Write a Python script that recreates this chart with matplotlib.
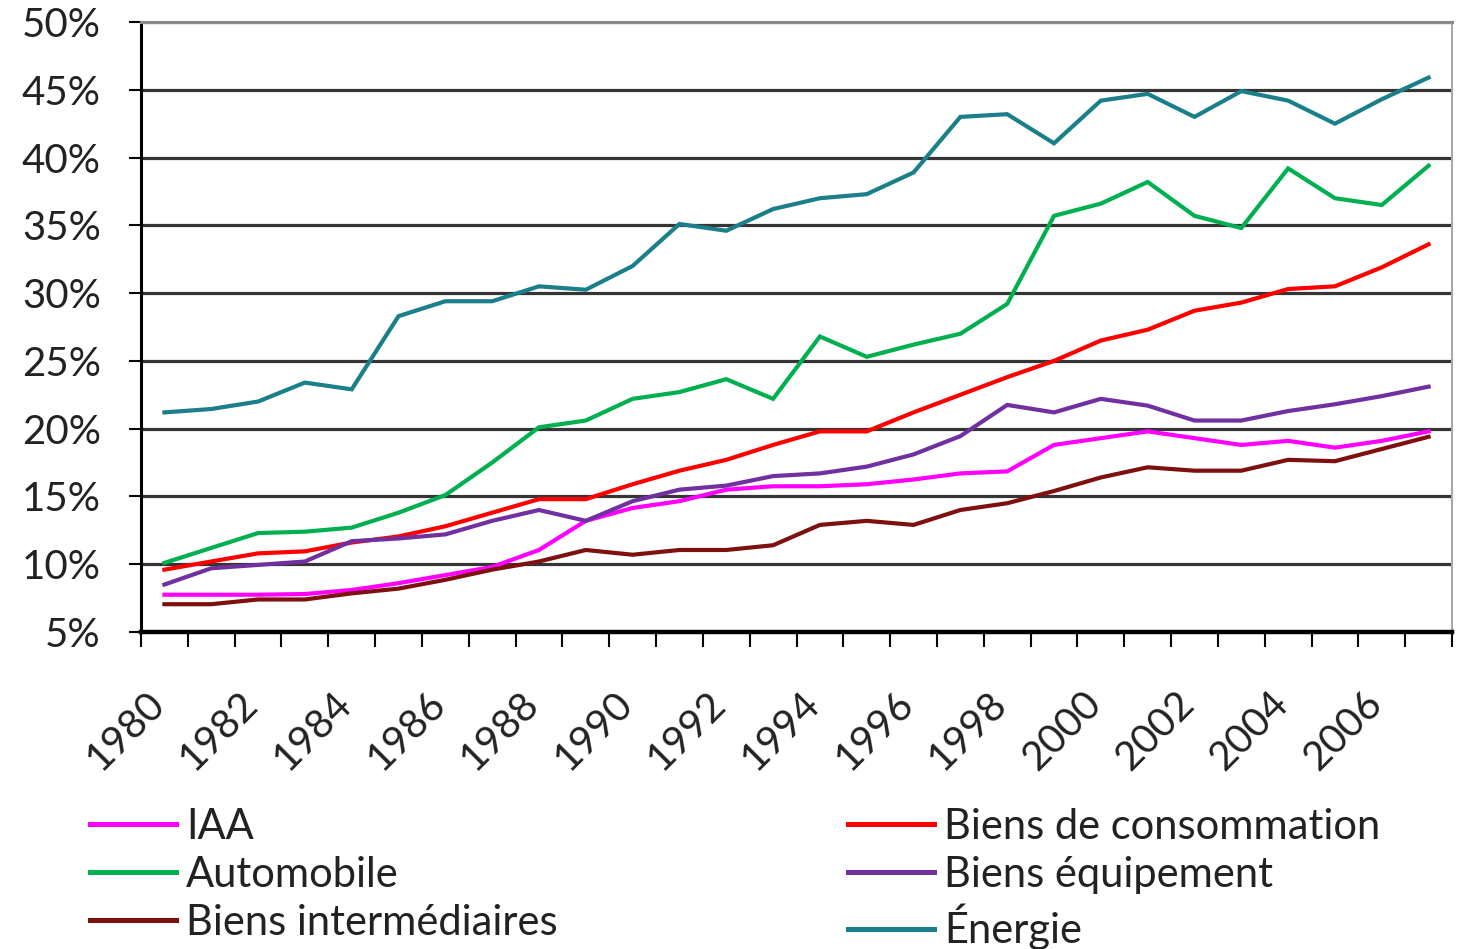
import matplotlib
matplotlib.use("Agg")
import matplotlib.pyplot as plt
from matplotlib.ticker import FixedLocator, FuncFormatter
from matplotlib.transforms import ScaledTranslation

plt.rcParams['font.family'] = ['Lato', 'DejaVu Sans']

years = list(range(1980, 2008))
year_labels = [str(y) for y in range(1980, 2007, 2)]
yticks = [5, 10, 15, 20, 25, 30, 35, 40, 45, 50]

iaa = [7.75, 7.75, 7.75, 7.8, 8.1, 8.6, 9.2, 9.8, 11.05, 13.2, 14.15, 14.65, 15.5, 15.75,
       15.75, 15.9, 16.25, 16.7, 16.85, 18.8, 19.3, 19.8, 19.3, 18.8, 19.1, 18.6, 19.1, 19.8]
conso = [9.6, 10.2, 10.8, 10.95, 11.6, 12.05, 12.8, 13.8, 14.8, 14.8, 15.9, 16.9, 17.7, 18.8,
         19.8, 19.8, 21.2, 22.5, 23.8, 25.0, 26.5, 27.3, 28.7, 29.3, 30.3, 30.5, 31.9, 33.6]
auto = [10.1, 11.2, 12.3, 12.4, 12.7, 13.8, 15.1, 17.5, 20.1, 20.6, 22.2, 22.7, 23.65, 22.2,
        26.8, 25.3, 26.2, 27.0, 29.2, 35.7, 36.6, 38.2, 35.7, 34.8, 39.2, 37.0, 36.5, 39.4]
equip = [8.5, 9.7, 9.95, 10.2, 11.7, 11.9, 12.2, 13.2, 14.0, 13.2, 14.65, 15.5, 15.8, 16.5,
         16.7, 17.2, 18.1, 19.45, 21.75, 21.2, 22.2, 21.7, 20.6, 20.6, 21.3, 21.8, 22.4, 23.1]
inter = [7.05, 7.05, 7.4, 7.4, 7.85, 8.2, 8.85, 9.6, 10.2, 11.05, 10.7, 11.05, 11.05, 11.4,
         12.9, 13.2, 12.9, 14.0, 14.5, 15.4, 16.4, 17.15, 16.9, 16.9, 17.7, 17.6, 18.5, 19.4]
energie = [21.2, 21.45, 22.0, 23.4, 22.9, 28.3, 29.4, 29.4, 30.5, 30.25, 32.0, 35.1, 34.6, 36.2,
           37.0, 37.3, 38.9, 43.0, 43.2, 41.05, 44.2, 44.7, 43.0, 44.9, 44.2, 42.5, 44.3, 45.9]

series = [
    ("IAA", iaa, "#FF00FF"),
    ("Automobile", auto, "#00B050"),
    ("Biens intermédiaires", inter, "#7F1010"),
    ("Biens de consommation", conso, "#FF0000"),
    ("Biens équipement", equip, "#7030A0"),
    ("Énergie", energie, "#1B7F8A"),
]

FS = 29
LFS = 30
TXT = '#222222'

W, H = 1468, 949
fig = plt.figure(figsize=(W / 100, H / 100), dpi=100)
ax = fig.add_axes([141 / W, 1 - 632 / H, (1452 - 141) / W, (632 - 22) / H])

xs = list(range(len(years)))
handles = {}
for name, vals, col in series:
    ln, = ax.plot(xs, vals, color=col, lw=3.0, solid_joinstyle='miter', zorder=3)
    handles[name] = ln

ax.set_xlim(-0.5, len(years) - 0.5)
ax.set_ylim(5, 50)

# y axis
ax.set_yticks(yticks)
ax.yaxis.set_major_formatter(FuncFormatter(lambda v, p: f"{int(v)}%"))
ax.yaxis.grid(True, color="#353535", lw=2.3, zorder=1)
ax.tick_params(axis='y', length=9, width=1.5, color='black', labelsize=FS,
               labelcolor=TXT, pad=20)

# x axis: ticks at category boundaries, labels at even categories
ax.xaxis.set_major_locator(FixedLocator([i - 0.5 for i in range(len(years) + 1)]))
ax.xaxis.set_major_formatter(FuncFormatter(lambda v, p: ""))
label_pos = [years.index(int(y)) for y in year_labels]
ax.xaxis.set_minor_locator(FixedLocator(label_pos))
ax.set_xticklabels(year_labels, minor=True)
ax.tick_params(axis='x', which='major', length=11, width=1.5, color='black')
ax.tick_params(axis='x', which='minor', length=0, labelsize=FS, labelcolor=TXT, pad=38)
shift = ScaledTranslation(7 / 100, 0, fig.dpi_scale_trans)
for lab in ax.get_xticklabels(minor=True):
    lab.set_rotation(45)
    lab.set_ha('right')
    lab.set_va('top')
    lab.set_transform(lab.get_transform() + shift)

ax.spines['left'].set_linewidth(2.2)
ax.spines['left'].set_color('black')
ax.spines['bottom'].set_linewidth(3.2)
ax.spines['bottom'].set_color('black')
ax.spines['bottom'].set_zorder(4)
ax.spines['right'].set_color('#a8a8a8')
ax.spines['right'].set_linewidth(1.5)
ax.spines['top'].set_color('#8a8a8a')
ax.spines['top'].set_linewidth(2.2)

# legend in two columns
col1 = ["IAA", "Automobile", "Biens intermédiaires"]
col2 = ["Biens de consommation", "Biens équipement", "Énergie"]
common = dict(frameon=False, fontsize=LFS, handlelength=2.07, handletextpad=0.24,
              labelspacing=0.24, borderpad=0, borderaxespad=0, labelcolor=TXT)
leg1 = fig.legend([handles[n] for n in col1], col1, loc='upper left',
                  bbox_to_anchor=(90 / W, 1 - 808 / H), **common)
leg2 = fig.legend([handles[n] for n in col2], col2, loc='upper left',
                  bbox_to_anchor=(848 / W, 1 - 808 / H), **common)
for leg in (leg1, leg2):
    for h in leg.legend_handles:
        h.set_linewidth(3.6)

fig.savefig("out.png", dpi=100, facecolor='white')
